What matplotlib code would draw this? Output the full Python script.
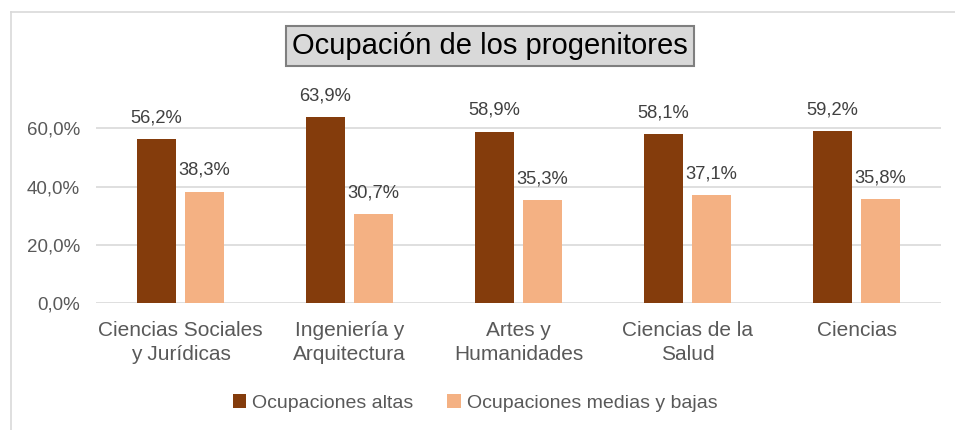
import numpy as np
import matplotlib.pyplot as plt
from matplotlib.lines import Line2D
from matplotlib.ticker import FuncFormatter

plt.rcParams["font.family"] = ["Liberation Sans", "DejaVu Sans"]

categories = ["Ciencias Sociales\ny Jurídicas", "Ingeniería y\nArquitectura",
              "Artes y\nHumanidades", "Ciencias de la\nSalud", "Ciencias"]
altas = [56.2, 63.9, 58.9, 58.1, 59.2]
medias_bajas = [38.3, 30.7, 35.3, 37.1, 35.8]
series_names = ["Ocupaciones altas", "Ocupaciones medias y bajas"]
yticks = [0, 20, 40, 60]

dark = "#843C0C"
light = "#F4B183"
grid_col = "#D9D9D9"
text_col = "#595959"

fig = plt.figure(figsize=(9.55, 4.3), dpi=100)
ax = fig.add_axes([96 / 955, 1 - 303.3 / 430, 845 / 955, 3.5 * 58.3 / 430])

x = np.arange(len(categories))
w = 0.225
off = 0.142
b1 = ax.bar(x - off, altas, w, color=dark, label=series_names[0], zorder=3)
b2 = ax.bar(x + off, medias_bajas, w, color=light, label=series_names[1], zorder=3)

for bars, vals in ((b1, altas), (b2, medias_bajas)):
    for r, v in zip(bars, vals):
        ax.annotate(f"{v:.1f}%".replace(".", ","),
                    (r.get_x() + r.get_width() / 2, v),
                    xytext=(0, 12), textcoords="offset points",
                    ha="center", va="baseline", fontsize=13.2, color="#404040")

ax.set_xlim(-0.5, len(categories) - 0.5)
ax.set_ylim(0, 70)
ax.set_yticks(yticks)
ax.yaxis.set_major_formatter(FuncFormatter(lambda v, p: f"{v:.1f}%".replace(".", ",")))
ax.set_xticks(x)
ax.set_xticklabels(categories, fontsize=15, color=text_col, linespacing=1.36)
ax.tick_params(axis="y", length=0, pad=11.5, labelsize=13.5, labelcolor=text_col)
ax.tick_params(axis="x", length=0, pad=12.5)
ax.grid(axis="y", color=grid_col, linewidth=1.2, zorder=0)
for s in ax.spines.values():
    s.set_visible(False)

fig.text(490 / 955, 1 - 46 / 430, "Ocupación de los progenitores", ha="center", va="center",
         fontsize=21, color="black",
         bbox=dict(boxstyle="square,pad=0.2", facecolor="#D9D9D9", edgecolor="#7F7F7F", linewidth=1.5))

fig.legend(handles=[b1, b2], loc="center", bbox_to_anchor=(475 / 955, 1 - 403 / 430),
           ncol=2, frameon=False, fontsize=14, labelcolor=text_col,
           handlelength=0.7, handleheight=0.7, handletextpad=0.3, columnspacing=1.75)

# outer chart border (only top and left visible in the crop)
fig.add_artist(Line2D([11 / 955, 1], [1 - 12 / 430] * 2, color=grid_col, linewidth=1.2))
fig.add_artist(Line2D([11 / 955] * 2, [0, 1 - 12 / 430], color=grid_col, linewidth=1.2))

fig.savefig("out.png", dpi=100)
